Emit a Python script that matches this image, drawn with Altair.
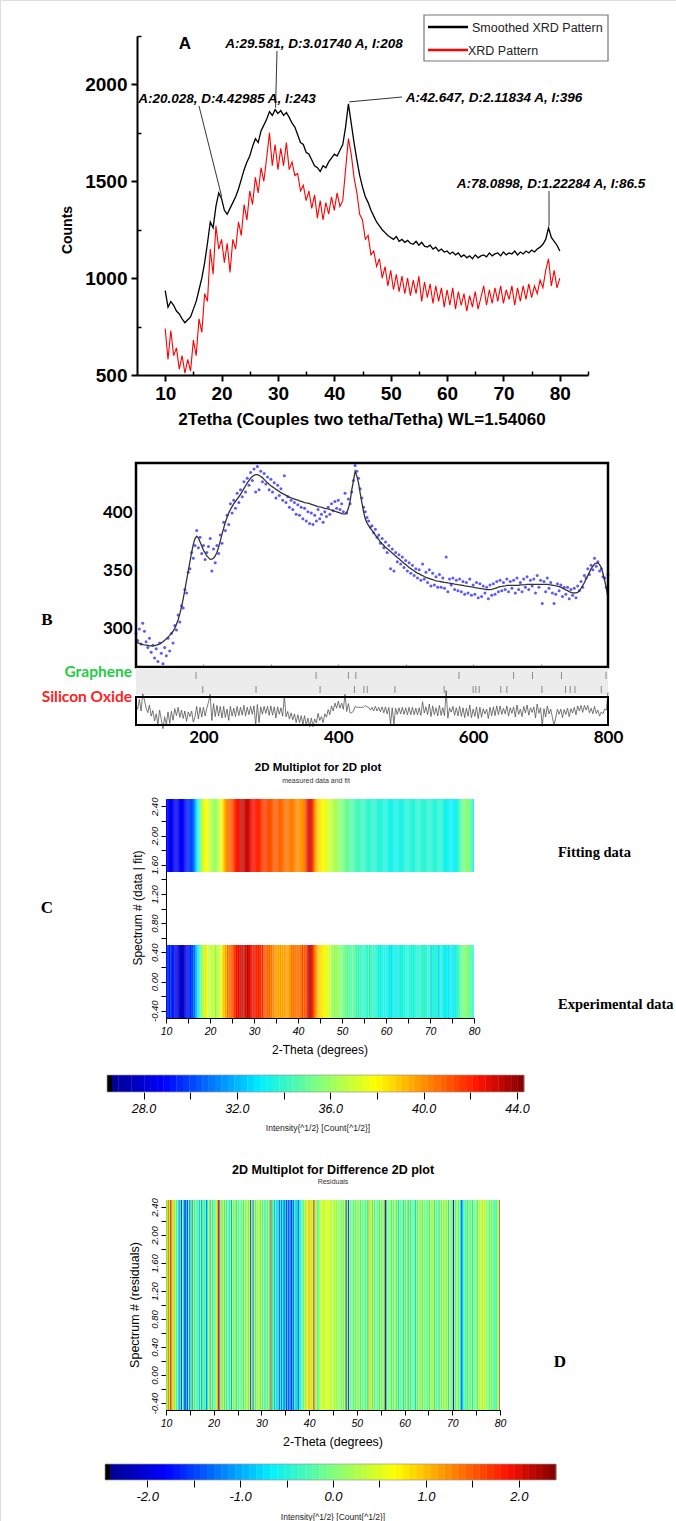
import altair as alt
import pandas as pd

W, H = 676, 1521
SANS = "Liberation Sans"
SERIF = "Liberation Serif"
CAL = "Lato"
ONE = pd.DataFrame({"k": [0]})

# ---------------- A: XRD pattern, counts on a 0.5 degree grid ----------------
two_theta_a = [10 + 0.5 * i for i in range(141)]
smoothed_counts = [
    935, 850, 880, 860, 830, 815, 790, 770, 785, 800,
    840, 880, 940, 1000, 1080, 1180, 1290, 1260, 1370, 1440,
    1410, 1350, 1330, 1360, 1390, 1420, 1460, 1510, 1560, 1600,
    1630, 1680, 1720, 1700, 1760, 1790, 1820, 1860, 1840, 1870,
    1850, 1865, 1840, 1855, 1830, 1800, 1780, 1740, 1700, 1690,
    1650, 1640, 1610, 1580, 1570, 1550, 1580, 1570, 1600, 1620,
    1640, 1630, 1660, 1690, 1780, 1900, 1800, 1700, 1610, 1530,
    1470, 1420, 1390, 1350, 1320, 1290, 1270, 1250, 1235, 1220,
    1210, 1200, 1215, 1190, 1200, 1185, 1195, 1180, 1175, 1190,
    1170, 1185, 1165, 1160, 1170, 1150, 1160, 1140, 1150, 1135,
    1140, 1125, 1135, 1120, 1130, 1110, 1120, 1105, 1115, 1100,
    1120, 1105, 1115, 1120, 1110, 1130, 1115, 1125, 1130, 1115,
    1135, 1120, 1130, 1125, 1140, 1120, 1135, 1125, 1140, 1130,
    1145, 1135, 1150, 1160, 1175, 1200, 1260, 1210, 1190, 1170,
    1140,
]
raw_counts = [
    740, 580, 730, 600, 640, 530, 600, 510, 580, 520,
    680, 600, 790, 720, 920, 880, 1150, 1020, 1270, 1150,
    1200, 1080, 1180, 1030, 1200, 1150, 1290, 1220, 1380, 1300,
    1450, 1380, 1520, 1440, 1570, 1500, 1620, 1750, 1580, 1690,
    1560, 1670, 1580, 1700, 1560, 1600, 1530, 1540, 1450, 1480,
    1400, 1450, 1360, 1430, 1310, 1400, 1300, 1390, 1330, 1420,
    1350, 1440, 1370, 1400, 1560, 1720, 1640, 1520, 1440, 1330,
    1300, 1200, 1220, 1120, 1140, 1060, 1100, 1000, 1060, 960,
    1040, 940, 1020, 930, 1010, 920, 1000, 910, 990, 920,
    1010, 880, 980, 900, 970, 870, 960, 880, 950, 850,
    940, 860, 950, 840, 930, 860, 920, 830, 910, 850,
    930, 840, 900, 960, 860, 940, 870, 950, 880, 960,
    870, 940, 890, 960, 860, 950, 880, 960, 890, 970,
    900, 960, 920, 990, 950, 1040, 1100, 960, 1040, 950,
    1000,
]
peak_labels = [
    ("A:20.028, D:4.42985 A, I:243", 20.028),
    ("A:29.581, D:3.01740 A, I:208", 29.581),
    ("A:42.647, D:2.11834 A, I:396", 42.647),
    ("A:78.0898, D:1.22284 A, I:86.5", 78.0898),
]

# -------- B/C/D: refinement, intensity^(1/2) x 10 on a 0.25 degree grid --------
two_theta_r = [10 + 0.25 * i for i in range(281)]
observed = [
    296, 290, 300, 287,  305, 298, 289, 284,  292, 280, 286, 275,  283, 272, 288, 279,
    270, 284, 277, 292,  281, 296, 288, 303,  299, 312, 306, 320,  318, 334, 331, 349,
    352, 366, 361, 372,  385, 370, 379, 365,  372, 360, 366, 371,  378, 350, 369, 357,
    372, 365, 381, 374,  392, 385, 398, 390,  408, 400, 411, 404,  417, 409, 420, 414,
    427, 418, 430, 424,  435, 428, 438, 418,  440, 420, 436, 427,  434, 425, 431, 420,
    429, 418, 426, 413,  424, 415, 421, 411,  432, 409, 414, 405,  411, 403, 409, 399,
    407, 398, 405, 395,  404, 393, 401, 391,  400, 390, 398, 393,  403, 395, 399, 392,
    401, 397, 405, 399,  408, 402, 410, 404,  411, 403, 408, 401,  417, 400, 412, 408,
    418, 428, 441, 436,  430, 421, 413, 405,  401, 396, 393, 388,  389, 383, 386, 379,
    381, 374, 378, 370,  375, 366, 372, 352,  369, 350, 366, 358,  364, 356, 362, 353,
    359, 350, 357, 348,  355, 346, 352, 344,  351, 342, 356, 343,  349, 340, 351, 337,
    348, 338, 345, 336,  347, 336, 344, 335,  362, 332, 343, 338,  344, 334, 342, 333,
    343, 332, 341, 330,  340, 331, 343, 329,  338, 330, 340, 327,  339, 328, 337, 331,
    336, 326, 338, 329,  339, 330, 341, 332,  342, 333, 340, 334,  343, 332, 341, 335,
    342, 331, 344, 334,  340, 332, 343, 336,  345, 334, 342, 337,  343, 331, 346, 336,
    342, 322, 341, 332,  344, 335, 340, 331,  322, 330, 339, 333,  338, 328, 336, 330,
    336, 326, 334, 329,  335, 327, 337, 333,  341, 336, 346, 344,  352, 347, 355, 351,
    361, 354, 358, 350,  352, 345, 344, 336,
    347,
]
fitted = [
    289, 288.2, 287.5, 287,  286.5, 286.2, 286, 285.8,  285.5, 285.5, 285.5, 285.7,
    286, 286.5, 287, 288,  289, 290.2, 291.5, 293,  294.5, 296.2, 298, 300.5,
    304, 308, 313, 319,  326, 334, 342, 350,  358, 366, 373, 378,
    380, 378.5, 375, 371.5,  368, 365.5, 363, 361.5,  360, 360.2, 361, 363,
    366, 370.5, 376, 381.5,  387, 392, 396, 400,  403, 405.5, 408, 410,
    412, 414, 416, 418.5,  421, 423.5, 426, 428,  430, 431.5, 432.5, 433,
    433, 432.5, 431.5, 430.5,  429, 427.5, 426, 424.7,  423.5, 422.5, 421.5, 420.5,
    419.5, 418.5, 417.5, 416.7,  416, 415.2, 414.5, 413.7,  413, 412.5, 412, 411.5,
    411, 410.5, 410, 409.5,  409, 408.7, 408.5, 408,  407.5, 407, 406.5, 406,
    405.5, 405.2, 405, 404.5,  404, 403.7, 403.5, 403,  402.5, 402, 401.5, 401,
    400.5, 400, 399.5, 399.2,  399, 400.5, 404, 410,  420, 428, 436, 432,
    426, 417, 409, 401,  395, 391.5, 389, 387,  385, 383, 381, 379,
    377, 375, 373.5, 372,  370.5, 369.2, 368, 366.7,  365.5, 364.2, 363, 361.7,
    360.5, 359.2, 358, 356.7,  355.5, 354.2, 353, 352,  351, 350, 349, 348.2,
    347.5, 346.7, 346, 345.2,  344.5, 344, 343.5, 343,  342.5, 342, 341.5, 341.2,
    341, 340.7, 340.5, 340.2,  340, 339.7, 339.5, 339.2,  339, 338.7, 338.5, 338.2,
    338, 337.7, 337.5, 337.2,  337, 336.7, 336.5, 336.2,  336, 335.7, 335.5, 335.2,
    335, 334.7, 334.5, 334.2,  334, 334, 334, 334.2,  334.5, 335, 335.5, 336,
    336.5, 336.7, 337, 337.2,  337.5, 337.5, 337.5, 337.5,  337.5, 337.5, 337.5, 337.7,
    338, 338, 338, 338.2,  338.5, 338.5, 338.5, 338.5,  338.5, 338.5, 338.5, 338.5,
    338.5, 338.5, 338.5, 338.5,  338.5, 338.2, 338, 337.7,  337.5, 337.2, 337, 336.5,
    336, 335.2, 334.5, 333.7,  333, 332.2, 331.5, 331.2,  331, 331.2, 331.5, 333,
    335, 337.5, 340, 343,  346, 349, 352, 354,  356, 356.7, 357, 355.5,
    353, 348, 342, 335,
    327,
]
graphene_peaks = [18.9, 36.7, 41.5, 42.6, 57.9, 66.0, 68.8, 73.1, 79.7]
silica_peaks = [19.9, 27.8, 37.3, 42.4, 43.8, 44.3, 48.4, 55.7, 60.0, 60.4,
                60.9, 64.1, 65.0, 70.2, 73.7, 74.4, 75.1, 79.0]

assert len(smoothed_counts) == len(raw_counts) == len(two_theta_a) == 141
assert len(observed) == len(fitted) == len(two_theta_r) == 281

# jet colour ramp used by both 2D plots
JET_STOPS = [0.0, 0.125, 0.36, 0.5, 0.64, 0.89, 1.0]
JET_COLORS = ["#00008f", "#0000ff", "#00f0ff", "#80ff80", "#ffff00", "#ff1000", "#800000"]


def jet(lo, hi):
    return alt.Scale(domain=[lo + f * (hi - lo) for f in JET_STOPS], range=JET_COLORS,
                     interpolate="rgb")


def sc(domain, rng):
    return alt.Scale(domain=domain, range=rng, nice=False, zero=False)


def ax(**kw):
    base = dict(grid=False, title=None, labelFlush=False, labelOverlap=False,
                domainColor="black", tickColor="black", labelColor="black")
    base.update(kw)
    return alt.Axis(**base)


def px_rect(x0, x1, y0, y1, **mk):
    return alt.Chart(ONE).mark_rect(**mk).encode(
        x=alt.value(x0), x2=alt.value(x1), y=alt.value(y0), y2=alt.value(y1))


def px_rule(x0, y0, x1, y1, **mk):
    return alt.Chart(ONE).mark_rule(**mk).encode(
        x=alt.value(x0), y=alt.value(y0), x2=alt.value(x1), y2=alt.value(y1))


def px_text(s, x, y, **mk):
    return alt.Chart(ONE).mark_text(text=s, **mk).encode(x=alt.value(x), y=alt.value(y))


layers = []

# ======================= A =======================
AX = sc([5, 85], [137, 588])
AY = sc([500, 2250], [375, 36])
dfA = pd.DataFrame({"t": two_theta_a, "smooth": smoothed_counts, "raw": raw_counts})

layers.append(alt.Chart(dfA).mark_line(color="#ff0000", strokeWidth=1.1).encode(
    x=alt.X("t:Q", scale=AX, axis=ax(orient="bottom", offset=375 - H,
            values=list(range(10, 90, 10)), tickSize=6, tickWidth=2, domainWidth=2,
            labelFont=SANS, labelFontSize=19, labelFontWeight="bold", labelPadding=3)),
    y=alt.Y("raw:Q", scale=AY, axis=ax(orient="left", offset=-137, format="d",
            values=[500, 1000, 1500, 2000], tickSize=6, tickWidth=2, domainWidth=2,
            labelFont=SANS, labelFontSize=19, labelFontWeight="bold", labelPadding=4)),
))
layers.append(alt.Chart(dfA).mark_line(color="#000000", strokeWidth=1.3).encode(
    x=alt.X("t:Q", scale=AX, axis=ax(orient="top", offset=-375,
            values=list(range(15, 90, 10)), tickSize=4, tickWidth=1.5,
            domain=False, labels=False)),
    y=alt.Y("smooth:Q", scale=AY, axis=ax(orient="right", offset=137 - W,
            values=[750, 1250, 1750, 2250], tickSize=4, tickWidth=1.5,
            domain=False, labels=False)),
))

# peak annotations: leader from the smoothed curve to the label
ann_layout = [  # text centre x, text y, leader end x, leader end y
    (227, 99, 199, 106),
    (314, 44, 277, 51),
    (494, 98, 402, 97),
    (551, 184, 549, 191),
]
ann_rows = []
for (label, ang), (tx, ty, lx, ly) in zip(peak_labels, ann_layout):
    i = min(range(len(two_theta_a)), key=lambda k: abs(two_theta_a[k] - ang))
    ann_rows.append(dict(label=label, ang=ang, cnt=smoothed_counts[i] + 10,
                         tx=tx, ty=ty, lx=lx, ly=ly))
for r in ann_rows:
    layers.append(alt.Chart(pd.DataFrame([r])).mark_rule(color="black", strokeWidth=0.8).encode(
        x=alt.X("ang:Q", scale=AX, axis=None), y=alt.Y("cnt:Q", scale=AY, axis=None),
        x2=alt.value(r["lx"]), y2=alt.value(r["ly"])))
    layers.append(px_text(r["label"], r["tx"], r["ty"], font=SANS, fontSize=13.5,
                          fontWeight="bold", fontStyle="italic", align="center",
                          baseline="middle", color="black"))

# legend
layers.append(px_rect(424, 608, 15, 61, fill="white", stroke="#777777", strokeWidth=1.2))
layers.append(px_rule(428, 27, 468, 27, color="black", strokeWidth=2.5))
layers.append(px_rule(428, 50, 468, 50, color="#ff0000", strokeWidth=2.5))
layers.append(px_text("Smoothed XRD Pattern", 472, 28, font=SANS, fontSize=12.5,
                      align="left", baseline="middle", color="#222222"))
layers.append(px_text("XRD Pattern", 468, 51, font=SANS, fontSize=12.5,
                      align="left", baseline="middle", color="#222222"))

layers.append(px_text("A", 185, 44, font=SANS, fontSize=17, fontWeight="bold"))
layers.append(px_text("Counts", 68, 230, font=SANS, fontSize=14, fontWeight="bold", angle=270))
layers.append(px_text("2Tetha (Couples two tetha/Tetha) WL=1.54060", 362, 420,
                      font=SANS, fontSize=17, fontWeight="bold"))

# ======================= B =======================
BX = sc([100, 800], [136, 608])
BY = sc([267.2, 443.1], [667, 463])
BRY = sc([-14, 14], [724, 698])
dfB = pd.DataFrame({
    "ch": [10 * t for t in two_theta_r],
    "obs": observed,
    "fit": fitted,
    "res": [o - f for o, f in zip(observed, fitted)],
})
layers.append(alt.Chart(dfB).mark_circle(size=9, color="#3030ff", opacity=0.8).encode(
    x=alt.X("ch:Q", scale=BX, axis=None),
    y=alt.Y("obs:Q", scale=BY, axis=ax(orient="left", offset=-136, values=[300, 350, 400],
            domain=False, ticks=False, labelFont=CAL, labelFontSize=17,
            labelFontWeight="bold", labelPadding=4)),
))
layers.append(alt.Chart(dfB).mark_line(color="#333333", strokeWidth=1.3).encode(
    x=alt.X("ch:Q", scale=BX, axis=ax(orient="top", offset=-667,
            values=[200, 300, 400, 500, 600, 700], tickSize=3, tickColor="#999999",
            domain=False, labels=False)),
    y=alt.Y("fit:Q", scale=BY, axis=None),
))
layers.append(px_rect(136, 608, 463, 667, fillOpacity=0, stroke="black", strokeWidth=2.5))

# reflection markers
layers.append(px_rect(136, 608, 668, 695, fill="#ececec"))
layers.append(alt.Chart(pd.DataFrame({"ch": [10 * t for t in graphene_peaks]}))
              .mark_rule(color="#8a8a8a", strokeWidth=1).encode(
    x=alt.X("ch:Q", scale=BX, axis=None), y=alt.value(672), y2=alt.value(679)))
layers.append(alt.Chart(pd.DataFrame({"ch": [10 * t for t in silica_peaks]}))
              .mark_rule(color="#8a8a8a", strokeWidth=1).encode(
    x=alt.X("ch:Q", scale=BX, axis=None), y=alt.value(686), y2=alt.value(693)))
layers.append(px_text("Graphene", 132, 672, font=CAL, fontSize=15.5, fontWeight="bold",
                      color="#22cc44", align="right"))
layers.append(px_text("Silicon Oxide", 132, 697, font=CAL, fontSize=15.5, fontWeight="bold",
                      color="#ff2222", align="right"))

# difference curve
layers.append(alt.Chart(dfB).mark_line(color="#555555", strokeWidth=0.8).encode(
    x=alt.X("ch:Q", scale=BX, axis=ax(orient="bottom", offset=725 - H,
            values=[200, 400, 600, 800], domain=False, ticks=False, labelFont=CAL,
            labelFontSize=17, labelFontWeight="bold", labelPadding=4)),
    y=alt.Y("res:Q", scale=BRY, axis=None),
))
layers.append(px_rect(136, 608, 697, 725, fillOpacity=0, stroke="black", strokeWidth=2))
layers.append(px_text("B", 47, 620, font=SERIF, fontSize=17, fontWeight="bold"))

# ======================= C =======================
def strips(vals, lo_row, hi_row, half=0.125):
    return pd.DataFrame({
        "t0": [max(t - half, 10) for t in two_theta_r],
        "t1": [min(t + half + 0.04, 80) for t in two_theta_r],
        "v": vals,
        "y0": lo_row, "y1": hi_row,
    })


def panel_axes(y_px_bottom, x_left):
    xa = ax(orient="bottom", offset=y_px_bottom - H, values=list(range(10, 85, 5)),
            tickSize=5, labelFont=SANS, labelFontSize=10.5, labelFontStyle="italic",
            labelPadding=3, labelExpr="datum.value % 10 == 0 ? datum.label : ''")
    ya = ax(orient="left", offset=-x_left,
            values=[round(-0.4 + 0.2 * k, 1) for k in range(15)],
            tickSize=5, labelFont=SANS, labelFontSize=9.5, labelFontStyle="italic",
            labelAngle=270, labelAlign="center", labelBaseline="bottom", labelPadding=2,
            labelExpr="abs(datum.value * 10 % 4) < 0.01 ? "
                      "replace(format(datum.value, '.2f'), '\u2212', '-') : ''")
    return xa, ya


CX = sc([10, 80], [166, 474])
CY = sc([-0.5, 2.5], [1018, 799])
CCOL = jet(26.65, 44.3)
cxa, cya = panel_axes(1018, 166)

layers.append(px_text("2D Multiplot for 2D plot", 318, 768, font=SANS, fontSize=11.5,
                      fontWeight="bold"))
layers.append(px_text("measured data and fit", 316, 781, font=SANS, fontSize=7, color="#333333"))
layers.append(alt.Chart(strips([f / 10 for f in fitted], 1.5, 2.5)).mark_rect().encode(
    x=alt.X("t0:Q", scale=CX, axis=cxa), x2="t1:Q",
    y=alt.Y("y0:Q", scale=CY, axis=cya), y2="y1:Q",
    color=alt.Color("v:Q", scale=CCOL, legend=None)))
layers.append(alt.Chart(strips([o / 10 for o in observed], -0.5, 0.5)).mark_rect().encode(
    x=alt.X("t0:Q", scale=CX, axis=None), x2="t1:Q",
    y=alt.Y("y0:Q", scale=CY, axis=None), y2="y1:Q",
    color=alt.Color("v:Q", scale=CCOL, legend=None)))
layers.append(px_text("2-Theta (degrees)", 320, 1050, font=SANS, fontSize=12))
layers.append(px_text("Spectrum # (data | fit)", 138, 908, font=SANS, fontSize=12, angle=270))
layers.append(px_text("Fitting data", 558, 853, font=SERIF, fontSize=14.5, fontWeight="bold",
                      align="left"))
layers.append(px_text("Experimental data", 558, 1005, font=SERIF, fontSize=14.5,
                      fontWeight="bold", align="left"))
layers.append(px_text("C", 47, 908, font=SERIF, fontSize=17, fontWeight="bold"))


def colorbar(lo, hi, x0, x1, y0, y1, tick_vals, label_expr, title, title_y, fs):
    n = 64
    step = (hi - lo) / n
    df = pd.DataFrame({"b0": [lo + k * step for k in range(n)],
                       "b1": [lo + (k + 1) * step + step * 0.05 for k in range(n)],
                       "v": [lo + (k + 0.5) * step for k in range(n)]})
    out = [px_rect(x0 - 5, x0, y0, y1, fill="black")]
    out.append(alt.Chart(df).mark_rect().encode(
        x=alt.X("b0:Q", scale=sc([lo, hi], [x0, x1]),
                axis=ax(orient="bottom", offset=y1 - H, values=tick_vals, tickSize=7,
                        domain=False, labelFont=SANS, labelFontSize=fs,
                        labelFontStyle="italic", labelPadding=3, labelExpr=label_expr)),
        x2="b1:Q", y=alt.value(y0), y2=alt.value(y1),
        color=alt.Color("v:Q", scale=jet(lo, hi), legend=None)))
    out.append(px_rect(x0 - 5, x1, y0, y1, fillOpacity=0, stroke="#999999", strokeWidth=0.7))
    out.append(px_text(title, (x0 + x1) / 2, title_y, font=SANS, fontSize=8.5, color="#222222"))
    return out


layers += colorbar(26.65, 44.3, 112, 524, 1075, 1092, list(range(28, 46, 2)),
                   "datum.value % 4 == 0 ? format(datum.value, '.1f') : ''",
                   "Intensity{^1/2} [Count{^1/2}]", 1128, 12.5)

# ======================= D =======================
DX = sc([10, 80], [166, 500])
DY = sc([-0.5, 2.5], [1410, 1200])
dxa, dya = panel_axes(1410, 166)
layers.append(px_text("2D Multiplot for Difference 2D plot", 333, 1170, font=SANS,
                      fontSize=12.5, fontWeight="bold"))
layers.append(px_text("Residuals", 333, 1182, font=SANS, fontSize=7, color="#333333"))
layers.append(alt.Chart(strips([(o - f) / 10 for o, f in zip(observed, fitted)], -0.5, 2.5))
              .mark_rect().encode(
    x=alt.X("t0:Q", scale=DX, axis=dxa), x2="t1:Q",
    y=alt.Y("y0:Q", scale=DY, axis=dya), y2="y1:Q",
    color=alt.Color("v:Q", scale=jet(-2.4, 2.4), legend=None)))
layers.append(px_text("2-Theta (degrees)", 333, 1442, font=SANS, fontSize=12.5))
layers.append(px_text("Spectrum # (residuals)", 135, 1305, font=SANS, fontSize=12.5, angle=270))
layers.append(px_text("D", 560, 1362, font=SERIF, fontSize=17, fontWeight="bold"))
layers += colorbar(-2.4, 2.4, 110, 556, 1464, 1480, [x / 2 for x in range(-4, 5)],
                   "datum.value % 1 == 0 ? replace(format(datum.value, '.1f'), '\u2212', '-') : ''",
                   "Intensity{^1/2} [Count{^1/2}]", 1517, 13)

chart = alt.layer(*layers).resolve_scale(
    x="independent", y="independent", color="independent"
).resolve_axis(
    x="independent", y="independent"
).properties(
    width=W, height=H, padding=0, autosize=alt.AutoSizeParams(type="none")
).configure_view(stroke=None).configure(background="white")

chart.save("out.html", embed_options={"renderer": "svg", "actions": False})
